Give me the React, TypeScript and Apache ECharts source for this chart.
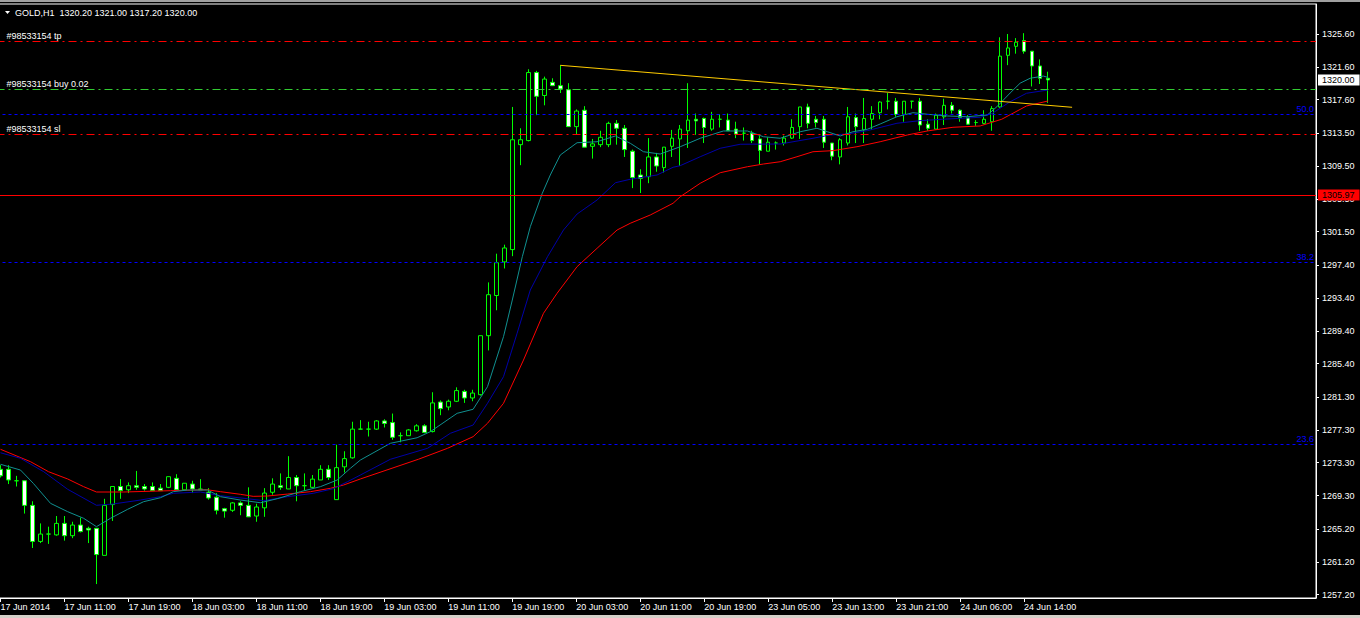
import { useEffect, useRef } from "react";
import * as echarts from "echarts";

const symbolName = "GOLD,H1";
const ticket = "98533154";
const slotCount = 165;
const barsPerLabel = 8;

const timeLabels = [
  "17 Jun 2014", "17 Jun 11:00", "17 Jun 19:00", "18 Jun 03:00", "18 Jun 11:00",
  "18 Jun 19:00", "19 Jun 03:00", "19 Jun 11:00", "19 Jun 19:00", "20 Jun 03:00",
  "20 Jun 11:00", "20 Jun 19:00", "23 Jun 05:00", "23 Jun 13:00", "23 Jun 21:00",
  "24 Jun 06:00", "24 Jun 14:00",
];

const openPrices = [
  1272.5, 1272.5, 1271.1, 1271.1, 1268.1, 1263.7, 1264.6, 1264.5, 1265.9, 1264.4,
  1265.7, 1265.3, 1265.3, 1262.0, 1268.2, 1270.4, 1270.0, 1270.5, 1270.4, 1270.4,
  1270.2, 1270.3, 1271.4, 1270.0, 1270.7, 1270.1, 1269.7, 1269.1, 1267.7, 1267.5,
  1268.4, 1268.1, 1266.8, 1267.8, 1269.7, 1270.5, 1270.1, 1271.5, 1270.5, 1270.3,
  1271.2, 1272.5, 1268.8, 1272.8, 1273.9, 1277.4, 1277.4, 1277.4, 1278.4, 1278.2,
  1276.6, 1276.6, 1277.2, 1277.8, 1277.1, 1280.7, 1280.1, 1280.8, 1282.0, 1281.2,
  1281.6, 1288.8, 1293.7, 1297.8, 1299.3, 1312.1, 1312.6, 1320.9, 1318.1, 1319.7,
  1319.3, 1318.8, 1314.3, 1316.3, 1311.9, 1312.1, 1312.1, 1314.7, 1314.1, 1311.3,
  1308.4, 1308.2, 1310.6, 1309.3, 1311.9, 1312.8, 1313.8, 1315.2, 1315.3, 1314.0,
  1315.2, 1315.1, 1314.0, 1313.5, 1313.5, 1312.8, 1311.3, 1312.3, 1312.3, 1312.9,
  1314.3, 1316.7, 1315.2, 1315.2, 1312.3, 1310.6, 1312.3, 1315.4, 1313.9, 1315.2,
  1316.0, 1317.4, 1317.4, 1315.8, 1317.4, 1317.4, 1314.6, 1314.0, 1315.5, 1316.9,
  1316.3, 1315.4, 1314.8, 1314.7, 1314.9, 1316.7, 1323.0, 1324.1, 1324.8, 1323.5,
  1321.7, 1320.2,
];
const highPrices = [
  1273.0, 1273.0, 1271.7, 1271.1, 1268.6, 1265.9, 1265.5, 1266.8, 1266.8, 1266.1,
  1266.6, 1265.5, 1265.3, 1268.9, 1270.4, 1271.3, 1270.9, 1272.3, 1270.7, 1270.9,
  1270.7, 1271.6, 1271.9, 1270.8, 1271.1, 1271.3, 1270.2, 1269.6, 1267.8, 1268.5,
  1268.6, 1270.3, 1268.3, 1270.2, 1271.4, 1272.0, 1274.1, 1271.8, 1272.0, 1271.8,
  1273.0, 1273.0, 1275.5, 1274.7, 1278.3, 1278.5, 1278.3, 1278.5, 1278.6, 1279.3,
  1277.0, 1277.4, 1278.0, 1278.0, 1281.9, 1280.9, 1281.0, 1282.5, 1282.2, 1282.2,
  1288.8, 1295.3, 1298.8, 1299.9, 1316.7, 1314.1, 1321.3, 1321.1, 1320.4, 1320.2,
  1321.8, 1319.6, 1316.4, 1316.8, 1312.8, 1313.8, 1314.9, 1315.1, 1314.5, 1311.5,
  1309.1, 1312.9, 1311.1, 1311.8, 1313.9, 1314.5, 1319.6, 1315.9, 1315.4, 1316.1,
  1315.8, 1315.9, 1314.9, 1314.2, 1313.8, 1313.2, 1313.0, 1312.5, 1313.2, 1315.2,
  1316.7, 1317.1, 1315.6, 1315.6, 1312.3, 1312.9, 1316.7, 1315.9, 1317.8, 1316.8,
  1317.4, 1318.4, 1317.8, 1317.4, 1317.4, 1317.8, 1315.2, 1315.9, 1317.7, 1317.3,
  1316.4, 1315.7, 1315.1, 1316.3, 1316.8, 1325.2, 1325.6, 1325.1, 1325.7, 1323.5,
  1322.5, 1321.0,
];
const lowPrices = [
  1271.5, 1270.7, 1270.4, 1267.1, 1262.9, 1263.5, 1263.4, 1264.4, 1263.8, 1264.1,
  1264.8, 1263.5, 1258.5, 1262.0, 1266.2, 1268.9, 1269.6, 1270.0, 1269.9, 1269.9,
  1269.9, 1270.2, 1269.9, 1270.0, 1269.6, 1270.0, 1268.8, 1267.0, 1266.6, 1267.3,
  1266.9, 1266.7, 1266.1, 1266.7, 1269.4, 1270.0, 1270.1, 1268.6, 1269.9, 1270.2,
  1271.2, 1271.2, 1268.8, 1272.1, 1273.8, 1277.4, 1276.5, 1277.3, 1277.6, 1276.1,
  1275.8, 1276.6, 1277.1, 1276.9, 1277.0, 1279.1, 1279.7, 1280.7, 1280.6, 1280.8,
  1281.5, 1287.0, 1291.9, 1297.0, 1298.5, 1309.6, 1312.5, 1315.7, 1316.9, 1319.3,
  1318.4, 1314.3, 1313.4, 1311.8, 1310.4, 1311.8, 1311.8, 1312.1, 1310.6, 1306.8,
  1306.2, 1307.4, 1308.8, 1308.7, 1310.6, 1309.5, 1311.7, 1313.3, 1312.3, 1313.8,
  1314.2, 1313.8, 1312.9, 1312.6, 1312.3, 1309.7, 1311.3, 1311.5, 1312.0, 1312.8,
  1312.8, 1314.1, 1314.2, 1311.7, 1310.2, 1309.7, 1312.0, 1312.3, 1312.3, 1313.9,
  1315.2, 1316.4, 1315.5, 1314.9, 1316.5, 1313.8, 1313.8, 1314.0, 1314.5, 1315.9,
  1314.9, 1314.5, 1314.4, 1314.6, 1313.8, 1316.6, 1321.8, 1323.2, 1323.2, 1319.2,
  1319.5, 1317.2,
];
const closePrices = [
  1271.7, 1271.2, 1271.1, 1268.1, 1263.7, 1264.6, 1264.6, 1265.9, 1264.4, 1265.7,
  1264.9, 1265.1, 1262.1, 1268.1, 1270.4, 1269.9, 1270.5, 1270.3, 1270.1, 1269.9,
  1269.9, 1271.6, 1270.0, 1270.8, 1270.1, 1270.0, 1269.0, 1267.5, 1267.4, 1268.4,
  1268.1, 1266.7, 1267.9, 1269.6, 1270.7, 1270.3, 1271.5, 1270.5, 1270.5, 1271.3,
  1272.5, 1271.5, 1272.7, 1273.8, 1277.4, 1277.4, 1277.4, 1278.4, 1278.1, 1276.4,
  1276.6, 1277.3, 1277.8, 1277.0, 1280.6, 1279.9, 1280.8, 1282.1, 1281.2, 1281.8,
  1288.8, 1293.8, 1297.7, 1299.5, 1312.7, 1312.7, 1320.9, 1318.0, 1320.1, 1319.3,
  1318.9, 1314.3, 1316.2, 1311.8, 1312.2, 1313.0, 1314.7, 1314.1, 1311.5, 1308.1,
  1308.0, 1310.6, 1309.5, 1311.8, 1312.9, 1314.0, 1315.1, 1315.0, 1314.2, 1315.2,
  1315.2, 1313.8, 1313.4, 1313.5, 1312.6, 1311.4, 1312.4, 1312.3, 1312.9, 1314.2,
  1316.7, 1314.7, 1314.8, 1312.4, 1310.7, 1312.7, 1315.5, 1314.3, 1315.3, 1315.9,
  1317.3, 1317.4, 1315.8, 1317.4, 1317.4, 1314.5, 1314.1, 1315.7, 1316.9, 1316.3,
  1315.4, 1314.6, 1314.8, 1315.2, 1316.5, 1322.9, 1323.9, 1324.6, 1323.5, 1321.7,
  1320.2, 1320.0,
];

// moving averages, read as [bar position, price]
const fastMA = [
  [0, 1273.11], [2.5, 1272.41], [4.1, 1270.79], [6.25, 1268.35], [8.4, 1267.33],
  [10.4, 1266.52], [12, 1265.5], [13.75, 1266.52], [15.9, 1267.62], [17.9, 1268.55],
  [20, 1269.03], [21.6, 1269.77], [23.4, 1269.97], [25.9, 1269.97], [27.5, 1269.16],
  [30, 1268.75], [32.5, 1268.42], [34.6, 1268.91], [37.5, 1269.77], [40, 1270.38],
  [42.1, 1271.19], [43.75, 1272.62], [45, 1273.63], [48.75, 1275.67], [52.1, 1276.35],
  [53.75, 1277.09], [57.1, 1279.33], [59.1, 1279.82], [60.9, 1282.58], [62.9, 1288.68],
  [64, 1293.15], [65.25, 1298.43], [66.25, 1302.09], [67.75, 1306.17], [68.75, 1308.4],
  [70, 1310.84], [72.1, 1312.34], [74.6, 1312.46], [76.9, 1313.16], [78.75, 1312.27],
  [80.4, 1311.24], [82.5, 1310.96], [85, 1311.85], [87.5, 1312.88], [90.4, 1313.77],
  [93.4, 1313.77], [95.4, 1313.07], [97.5, 1312.88], [100, 1313.68], [102.1, 1314.1],
  [103.4, 1313.68], [105, 1313.16], [106.6, 1313.68], [108.4, 1313.98], [110, 1314.62],
  [112.1, 1315.51], [114.1, 1316.0], [115.9, 1315.81], [118.4, 1315.6], [120.9, 1315.51],
  [123.4, 1315.72], [124.6, 1316.73], [126.25, 1318.4], [127.5, 1319.6], [128.75, 1320.2],
  [130.4, 1320.47], [131, 1320.3],
];
const midMA = [
  [0, 1274.52], [2.5, 1273.84], [5.4, 1272.21], [8.4, 1270.06], [12, 1268.11],
  [14.1, 1268.27], [17.5, 1268.75], [20, 1269.16], [21.6, 1269.57], [25, 1269.73],
  [27.5, 1269.28], [30.9, 1268.91], [32.9, 1268.67], [35.9, 1269.16], [39.1, 1269.57],
  [41.6, 1270.13], [43.4, 1270.99], [45, 1271.8], [48.75, 1273.72], [53.4, 1275.06],
  [56.25, 1276.89], [59.1, 1277.9], [60.9, 1280.55], [62.9, 1283.8], [64.6, 1289.09],
  [66.25, 1294.37], [68.4, 1298.43], [70.4, 1301.69], [72.1, 1303.64], [74.6, 1305.35],
  [76.9, 1307.46], [78.75, 1307.88], [82.1, 1308.4], [84.1, 1309.34], [85, 1309.54],
  [87.5, 1310.63], [90, 1311.66], [92.5, 1312.15], [97.5, 1312.18], [101.6, 1312.88],
  [103.75, 1313.28], [105.9, 1313.4], [108.4, 1313.81], [112.1, 1314.71], [115, 1315.03],
  [118.4, 1315.23], [122.5, 1315.44], [124, 1315.9], [126.25, 1317.34], [128.3, 1318.37],
  [131, 1318.77],
];
const slowMA = [
  [0, 1274.94], [3.75, 1273.43], [6, 1272.21], [8.4, 1271.32], [10.4, 1270.38],
  [12, 1269.73], [15.4, 1269.73], [21.25, 1269.89], [25.8, 1270.01], [27.5, 1269.77],
  [30, 1269.45], [31.6, 1269.2], [33.4, 1269.24], [35.9, 1269.48], [38.75, 1269.77],
  [41.25, 1270.18], [42.9, 1270.58], [45, 1271.32], [52.25, 1273.72], [55.9, 1275.06],
  [59.1, 1276.48], [60.9, 1278.11], [62.9, 1280.55], [65.4, 1285.83], [67.9, 1291.53],
  [69.6, 1293.97], [72.1, 1297.22], [74.6, 1299.46], [77.1, 1301.69], [78.75, 1302.51],
  [81.25, 1303.52], [84.1, 1304.95], [85, 1305.75], [87.5, 1307.39], [90, 1308.68],
  [93.4, 1309.41], [95.4, 1309.74], [97.5, 1310.02], [99.6, 1310.63], [101.6, 1311.24],
  [104.1, 1311.37], [107.1, 1311.85], [110, 1312.46], [113.4, 1313.28], [115.9, 1313.77],
  [119.1, 1314.22], [122.5, 1314.38], [125.2, 1315.2], [128.3, 1316.82], [131, 1317.43],
];
const trendLine = [[70, 1321.78], [134, 1316.66]];

const yTickLabels = [
  "1257.20", "1261.20", "1265.20", "1269.30", "1273.30", "1277.30", "1281.30", "1285.40",
  "1289.40", "1293.40", "1297.40", "1301.50", "1305.50", "1309.50", "1313.50", "1317.60",
  "1321.60", "1325.60",
];
const yMin = 1256.8;
const yMax = 1329.26;

const takeProfit = 1324.71;
const entryPrice = 1318.85;
const stopLoss = 1313.36;
const entryLots = "0.02";
const fibNames = ["50.0", "38.2", "23.6"];
const fibValues = [1315.8, 1297.75, 1275.5];
const alertLevel = 1305.97;
const bidPrice = 1320.0;

const FONT = "Liberation Sans";
const SHIFT = 4; // chart canvas starts 4px left of the page edge

export default function App() {
  const ref = useRef<HTMLDivElement>(null);

  useEffect(() => {
    if (!ref.current) return;
    const chart = echarts.init(ref.current, undefined, { renderer: "svg" });

    const categories = Array.from({ length: slotCount }, (_, i) =>
      i % barsPerLabel === 0 && i / barsPerLabel < timeLabels.length ? timeLabels[i / barsPerLabel] : ""
    );
    const candleData = openPrices.map((o, i) => [o, closePrices[i], lowPrices[i], highPrices[i]]);
    const yTicks = yTickLabels.map(Number);
    const last = openPrices.length - 1;
    const header = `${symbolName}  ${openPrices[last].toFixed(2)} ${highPrices[last].toFixed(2)} ${lowPrices[last].toFixed(2)} ${closePrices[last].toFixed(2)}`;

    const dashDot = [8, 4, 2, 4];
    const tradeLabel = (text: string) => ({
      show: true,
      position: "insideStartTop",
      formatter: text,
      color: "#ffffff",
      fontSize: 9,
      fontFamily: FONT,
      distance: [10, 1],
    });
    const tagLabel = (bg: string) => ({
      show: true,
      position: "end",
      formatter: (p: any) => Number(p.value).toFixed(2),
      color: "#000000",
      backgroundColor: bg,
      fontSize: 9,
      fontFamily: FONT,
      padding: [1, 5, 1, 4],
      distance: 2,
    });

    const markLines: any[] = [
      { yAxis: takeProfit, lineStyle: { color: "#ff0000", type: dashDot, width: 1 }, label: tradeLabel(`#${ticket} tp`) },
      { yAxis: entryPrice, lineStyle: { color: "#32cd32", type: dashDot, width: 1 }, label: tradeLabel(`#${ticket} buy ${entryLots}`) },
      { yAxis: stopLoss, lineStyle: { color: "#ff0000", type: dashDot, width: 1 }, label: tradeLabel(`#${ticket} sl`) },
      ...fibValues.map((v, k) => ({
        yAxis: v,
        lineStyle: { color: "#0000ff", type: [3, 3], width: 1 },
        label: {
          show: true,
          position: "insideEndTop",
          formatter: fibNames[k],
          color: "#0000ff",
          fontSize: 9,
          fontFamily: FONT,
          distance: [2, 1],
        },
      })),
      { yAxis: alertLevel, lineStyle: { color: "#ff0000", type: "solid", width: 1 }, label: tagLabel("#ff0000") },
      { yAxis: bidPrice, lineStyle: { color: "rgba(0,0,0,0)", type: "solid", width: 1 }, label: tagLabel("#ffffff") },
    ];

    const lineSeries = (data: number[][], color: string) => ({
      type: "line",
      xAxisIndex: 1,
      data,
      showSymbol: false,
      symbol: "none",
      silent: true,
      lineStyle: { color, width: 1 },
      z: 4,
    });

    chart.setOption({
      animation: false,
      backgroundColor: "#000000",
      textStyle: { fontFamily: FONT },
      grid: {
        left: 0.5,
        right: 44,
        top: 4,
        bottom: 20,
        show: true,
        borderColor: "#ffffff",
        borderWidth: 1,
        backgroundColor: "transparent",
      },
      xAxis: [
        {
          type: "category",
          data: categories,
          boundaryGap: true,
          axisLine: { show: true, onZero: false, lineStyle: { color: "#ffffff", width: 1 } },
          axisTick: {
            show: true,
            alignWithLabel: true,
            interval: (_i: number, v: string) => v !== "",
            length: 4,
            lineStyle: { color: "#ffffff" },
          },
          axisLabel: {
            interval: 0,
            color: "#ffffff",
            fontSize: 9,
            fontFamily: FONT,
            align: "left",
            margin: 4,
          },
          splitLine: { show: false },
        },
        {
          type: "value",
          min: -0.5,
          max: slotCount - 0.5,
          show: false,
          axisLine: { show: false, onZero: false },
          axisTick: { show: false },
          axisLabel: { show: false },
          splitLine: { show: false },
        },
      ],
      yAxis: {
        type: "value",
        position: "right",
        min: yMin,
        max: yMax,
        axisLine: { show: true, onZero: false, lineStyle: { color: "#ffffff", width: 1 } },
        axisTick: { show: true, length: 3, customValues: yTicks, lineStyle: { color: "#ffffff" } },
        axisLabel: {
          customValues: yTicks,
          formatter: (v: number) => v.toFixed(2),
          color: "#ffffff",
          fontSize: 9,
          fontFamily: FONT,
          margin: 6,
        },
        splitLine: { show: false },
      },
      series: [
        {
          type: "candlestick",
          xAxisIndex: 0,
          data: candleData,
          barWidth: 4,
          silent: true,
          itemStyle: {
            color: "#000000",
            color0: "#ffffff",
            borderColor: "#00ff00",
            borderColor0: "#00ff00",
            borderColorDoji: "#00ff00",
            borderWidth: 1,
          },
          markLine: {
            silent: true,
            symbol: "none",
            animation: false,
            data: markLines,
          },
          z: 3,
        },
        lineSeries(slowMA, "#ff0000"),
        lineSeries(midMA, "#0000a8"),
        lineSeries(fastMA, "#109090"),
        lineSeries(trendLine, "#ffcc00"),
      ],
      graphic: [
        { type: "rect", shape: { x: 0, y: 0, width: 1364, height: 2 }, style: { fill: "#a0a0a0" }, silent: true },
        { type: "rect", shape: { x: 0, y: 615, width: 1364, height: 3 }, style: { fill: "#d4d0c8" }, silent: true },
        {
          type: "polygon",
          shape: { points: [[5 + SHIFT, 11], [10 + SHIFT, 11], [7.5 + SHIFT, 14]] },
          style: { fill: "#ffffff" },
          silent: true,
        },
        {
          type: "text",
          x: 15 + SHIFT,
          y: 8,
          style: { text: header, fill: "#ffffff", font: `9px "${FONT}"` },
          silent: true,
        },
      ],
    });

    return () => chart.dispose();
  }, []);

  return (
    <div
      ref={ref}
      style={{ position: "fixed", left: -SHIFT, top: 0, width: 1360 + SHIFT, height: 618, background: "#000" }}
    />
  );
}
